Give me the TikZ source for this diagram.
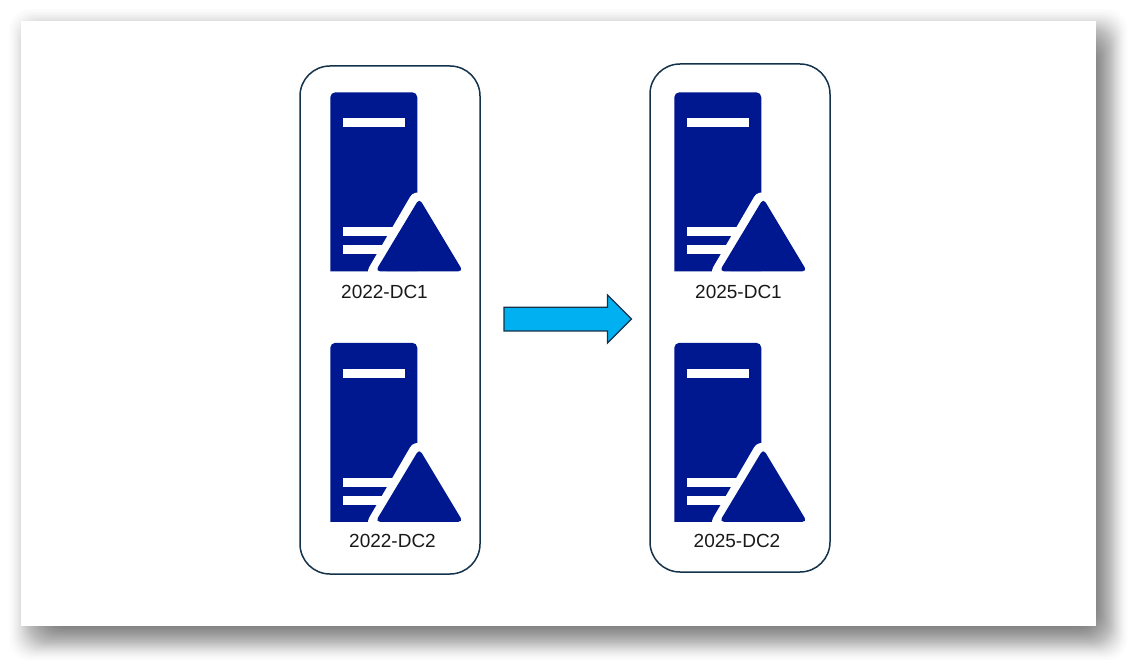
\documentclass[tikz,border=0pt]{standalone}
\usepackage{fontspec}
\setmainfont{Liberation Sans}
\definecolor{srv}{HTML}{00188F}
\definecolor{edge}{HTML}{14324A}
\definecolor{sky}{HTML}{00B0F0}
\tikzset{
  groupbox/.style={draw=edge,line width=1.5pt,fill=white,rounded corners=30pt},
  srvlabel/.style={text=black!90,font=\fontsize{19}{22}\selectfont,inner sep=0pt,anchor=center},
  blockarrow/.style={draw=edge,line width=1.4pt,fill=sky,line join=miter},
  srvbar/.style={fill=white},
  srvhalo/.style={draw=white,line width=17pt,line cap=round},
  srvtri/.style={fill=srv,rounded corners=4.5pt}
}
\newcommand{\dcserver}[2]{%
  \begin{scope}[shift={(#1,#2)}]
    \fill[srv] (330.3,271.3) -- (330.3,180) [rounded corners=5pt] -- (330.3,92.3) -- (417.3,92.3) [sharp corners] -- (417.3,271.3) -- cycle;
    \fill[srvbar] (343.3,118.3) rectangle (404.7,127.3);
    \fill[srvbar] (343.3,227.3) rectangle (400,236.3);
    \fill[srvbar] (343.3,245.3) rectangle (390,254.3);
    \begin{scope}
      \clip (300,150) rectangle (470,271.3);
      \draw[srvhalo] (417.5,201) -- (376.5,271.5);
      \fill[white] (380,271.5) -- (417.5,201) -- (470,201) -- (470,272) -- cycle;
    \end{scope}
    \fill[srvtri] (419.3,198.5) -- (375.5,271.3) -- (463,271.3) -- cycle;
  \end{scope}}
\begin{document}
\begin{tikzpicture}[x=1pt,y=-1pt]
\useasboundingbox (0,0) rectangle (1138,668);
\fill[white] (0,0) rectangle (1138,668);
% soft shadow of the page
\foreach \i in {0,...,39}{
  \pgfmathsetmacro{\t}{(\i+0.5)/40}
  \pgfmathsetmacro{\u}{0.5-sin(asin(1-2*\t)/3)}
  \pgfmathsetmacro{\ll}{6+52*\u}
  \pgfmathsetmacro{\tp}{6+52*\u}
  \pgfmathsetmacro{\rr}{1130-44*\u}
  \pgfmathsetmacro{\bb}{663-46*\u}
  \fill[black,opacity=0.016,rounded corners=20pt] (\ll,\tp) rectangle (\rr,\bb);
}
\fill[white] (21,21) rectangle (1096,626);
\draw[groupbox] (300,66) rectangle (480,574);
\draw[groupbox] (650,64) rectangle (830,572);
\dcserver{0}{0}
\dcserver{0}{250.5}
\dcserver{344}{0}
\dcserver{344}{250.5}
\node[srvlabel] (a1) at (384.5,292) {2022-DC1};
\node[srvlabel] (a2) at (392.5,541) {2022-DC2};
\node[srvlabel] (b1) at (738.5,292) {2025-DC1};
\node[srvlabel] (b2) at (737,541) {2025-DC2};
\draw[blockarrow] (504,307.3) -- (607.5,307.3) -- (607.5,295) -- (631.5,319) -- (607.5,343) -- (607.5,331) -- (504,331) -- cycle;
\end{tikzpicture}
\end{document}
